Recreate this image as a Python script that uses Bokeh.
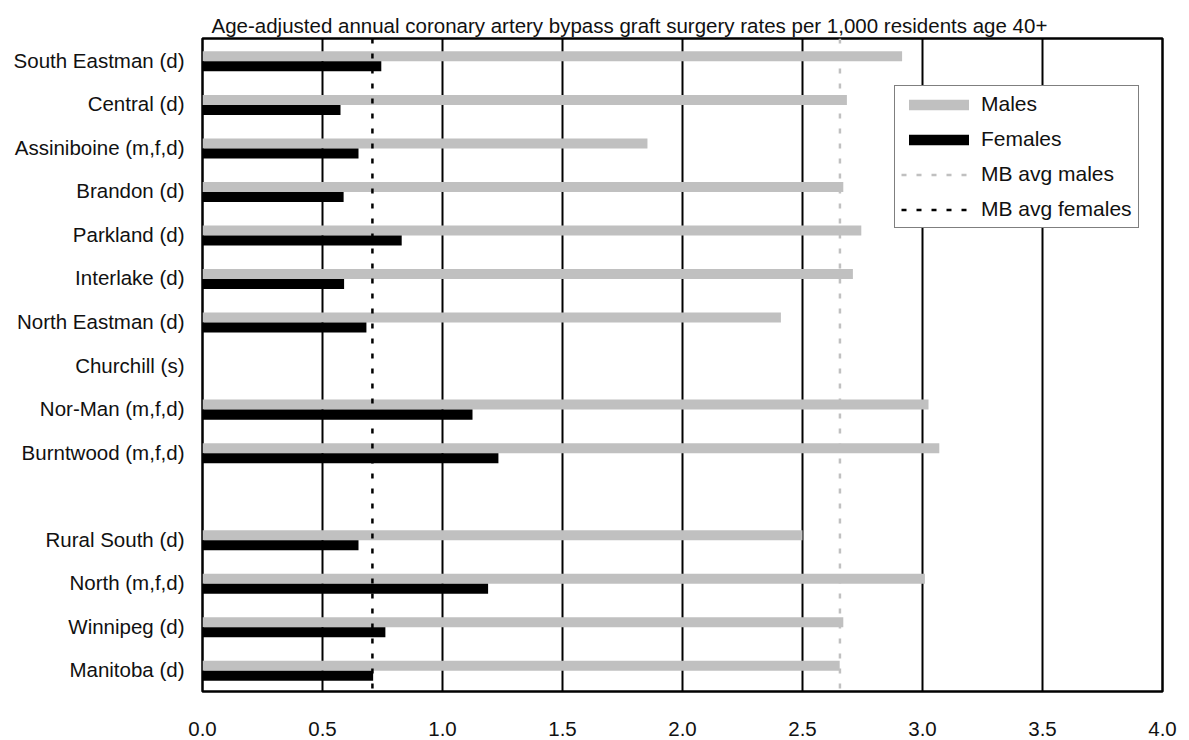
import numpy as np
from bokeh.plotting import figure
from bokeh.models import Range1d, FixedTicker, Legend, LegendItem, Title, CustomJSTickFormatter
from bokeh.embed import file_html
from bokeh.resources import INLINE

regions = ["South Eastman (d)", "Central (d)", "Assiniboine (m,f,d)", "Brandon (d)",
           "Parkland (d)", "Interlake (d)", "North Eastman (d)", "Churchill (s)",
           "Nor-Man (m,f,d)", "Burntwood (m,f,d)", "", "Rural South (d)",
           "North (m,f,d)", "Winnipeg (d)", "Manitoba (d)"]
males = [2.915, 2.685, 1.854, 2.67, 2.745, 2.71, 2.41, np.nan,
         3.025, 3.07, np.nan, 2.50, 3.01, 2.67, 2.655]
females = [0.745, 0.575, 0.65, 0.588, 0.83, 0.59, 0.683, np.nan,
           1.125, 1.233, np.nan, 0.65, 1.19, 0.762, 0.711]
mb_avg_males = 2.656
mb_avg_females = 0.708
x_ticks = [0.0, 0.5, 1.0, 1.5, 2.0, 2.5, 3.0, 3.5, 4.0]

FONT = "Liberation Sans"
GREY = "#C0C0C0"

n = len(regions)
centers = np.arange(n) + 0.5
bar_h = 0.23
shift = 0.025

p = figure(frame_width=960, frame_height=653, output_backend="svg",
           toolbar_location=None, x_range=Range1d(0, 4), y_range=Range1d(n, 0),
           min_border_left=202, min_border_top=38, min_border_right=27,
           min_border_bottom=48)
p.outline_line_color = "black"
p.outline_line_width = 2.5

males_arr = np.array(males, dtype=float)
fem_arr = np.array(females, dtype=float)

r_m = p.hbar(y=centers - bar_h / 2 + shift, left=0, right=males_arr, height=bar_h,
             fill_color=GREY, line_color=None)
r_f = p.hbar(y=centers + bar_h / 2 + shift, left=0, right=fem_arr, height=bar_h,
             fill_color="black", line_color=None)
r_am = p.line(x=[mb_avg_males, mb_avg_males], y=[0, n], line_color=GREY,
              line_width=2.5, line_dash="5 10")
r_af = p.line(x=[mb_avg_females, mb_avg_females], y=[0, n], line_color="black",
              line_width=2.5, line_dash="5 10")

p.xaxis.ticker = FixedTicker(ticks=x_ticks)
p.xaxis.formatter = CustomJSTickFormatter(code="return tick.toFixed(1);")
p.yaxis.ticker = FixedTicker(ticks=[float(c) for c, r in zip(centers, regions) if r])
p.yaxis.major_label_overrides = {float(c): r for c, r in zip(centers, regions) if r}
for ax in (p.xaxis[0], p.yaxis[0]):
    ax.axis_line_color = None
    ax.major_tick_line_color = None
    ax.minor_tick_line_color = None
    ax.major_label_text_font = FONT
    ax.major_label_text_font_size = "20.5px"
    ax.major_label_text_color = "#111111"
p.yaxis.major_label_standoff = 12
p.xaxis.major_label_standoff = 24

p.xgrid.ticker = FixedTicker(ticks=x_ticks)
p.xgrid.grid_line_color = "black"
p.xgrid.grid_line_width = 2
p.ygrid.grid_line_color = None

t = Title(text="Age-adjusted annual coronary artery bypass graft surgery rates per 1,000 residents age 40+",
          align="left", offset=9, text_font=FONT, text_font_size="20.5px",
          text_font_style="normal", text_color="#111111", standoff=4)
p.add_layout(t, "above")

legend = Legend(items=[LegendItem(label="Males", renderers=[r_m]),
                       LegendItem(label="Females", renderers=[r_f]),
                       LegendItem(label="MB avg males", renderers=[r_am]),
                       LegendItem(label="MB avg females", renderers=[r_af])],
                location=(692, 463), glyph_width=75, glyph_height=13,
                label_text_font=FONT, label_text_font_size="21px",
                label_text_color="#111111",
                label_standoff=5, spacing=11, padding=6, margin=0,
                border_line_color="black", border_line_width=1,
                background_fill_alpha=1)
p.add_layout(legend, "center")

open("out.html", "w").write(file_html(p, INLINE))
